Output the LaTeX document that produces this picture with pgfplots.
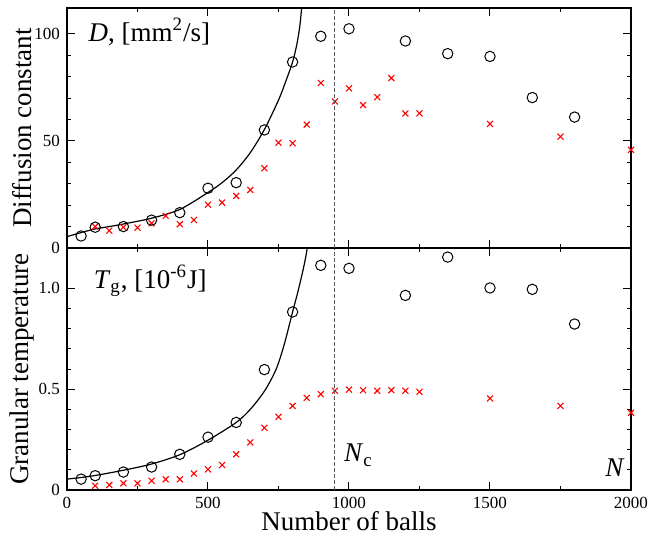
\documentclass[border=0pt]{standalone}
\usepackage{fontspec}
\setmainfont{Liberation Serif}
\usepackage{pgfplots}
\usepackage{pgfplotstable}
\pgfplotsset{compat=1.18}

% diffusion constant D [mm^2/s]
\pgfplotstableread{
N D
50 5.6
100 9.7
200 10.0
300 13.0
400 16.5
500 27.9
600 30.5
700 55.1
800 86.8
900 98.8
1000 102.3
1200 96.6
1350 90.7
1500 89.4
1650 70.2
1800 61.1
}\Dcirc
\pgfplotstableread{
N D
100 10.0
150 8.1
200 9.7
250 9.5
300 11.5
350 15.0
400 11.1
450 13.1
500 20.2
550 21.2
600 24.3
650 27.1
700 37.2
750 49.2
800 48.9
850 57.6
900 77.0
950 68.4
1000 74.5
1050 66.7
1100 70.4
1150 79.3
1200 62.8
1250 62.8
1500 57.9
1750 52.0
2000 45.8
}\Dcross
\pgfplotstableread{
N D
0 5.3
50 7.2
100 8.9
150 10.0
200 11.2
300 13.9
400 18.0
500 25.9
550 30.5
600 36.4
650 44.5
700 55.3
750 69.0
775 77.5
800 86.8
815 95
825 103
832 112
840 125
}\Dfit

% granular temperature T_g [1e-6 J]
\pgfplotstableread{
N T
50 0.054
100 0.071
200 0.089
300 0.114
400 0.177
500 0.262
600 0.335
700 0.597
800 0.883
900 1.114
1000 1.099
1200 0.965
1350 1.155
1500 1.002
1650 0.995
1800 0.823
}\Tcirc
\pgfplotstableread{
N T
100 0.021
150 0.025
200 0.033
250 0.033
300 0.046
350 0.053
400 0.053
450 0.082
500 0.102
550 0.124
600 0.177
650 0.236
700 0.309
750 0.363
800 0.417
850 0.457
900 0.475
950 0.492
1000 0.498
1050 0.495
1100 0.492
1150 0.495
1200 0.492
1250 0.487
1500 0.454
1750 0.417
2000 0.383
}\Tcross
\pgfplotstableread{
N T
0 0.054
50 0.062
100 0.072
200 0.098
300 0.129
400 0.175
500 0.247
600 0.335
650 0.40
700 0.49
741 0.597
770 0.72
800 0.883
820 0.99
840 1.11
852 1.2
862 1.32
}\Tfit

\tikzset{
  crit/.style={black!65, line width=0.5pt, dash pattern=on 2pt off 1pt},
  big/.style={font=\fontsize{13.5}{16}\selectfont},
}
\pgfplotsset{
  panel/.style={
    scale only axis, width=282pt,
    xmin=0, xmax=2000,
    xtick={0,500,1000,1500,2000}, minor x tick num=1,
    minor y tick num=4,
    major tick length=4pt, minor tick length=2pt,
    axis line style={line width=0.8pt},
    every tick/.style={black, line width=0.5pt},
    tick label style={font=\fontsize{8.5}{10}\selectfont},
    label style={font=\fontsize{13.5}{16}\selectfont},
    /pgf/number format/assume math mode=true,
    /pgf/number format/1000 sep={},
    clip mode=individual,
    ylabel style={at={(axis description cs:-0.08,0.5)}, anchor=center},
  },
  circ/.style={only marks, mark=o, mark size=2.6pt, black, line width=0.5pt},
  crs/.style={only marks, mark=x, mark size=2.1pt, red, line width=0.55pt},
  fit/.style={smooth, no marks, black, line width=0.6pt},
}

\begin{document}
\begin{tikzpicture}
% bottom panel
\begin{axis}[panel, at={(0,0)}, anchor=south west, height=121pt,
  ymin=0, ymax=1.2, ytick={0,0.5,1}, yticklabels={0,0.5,1.0},
  xlabel={Number of balls}, ylabel={Granular temperature},
  xlabel style={at={(axis description cs:0.5,-0.128)}, anchor=center, inner sep=0pt}]
\addplot[fit] table[x=N,y=T]{\Tfit};
\addplot[crs] table[x=N,y=T]{\Tcross};
\addplot[circ] table[x=N,y=T]{\Tcirc};
\draw[crit] (axis cs:950,0) -- (axis cs:950,1.2);
\node[big, anchor=base west] at (axis cs:70,1.0) {\textit{T}\textsubscript{g}, [10\textsuperscript{-6}J]};
\node[big, anchor=base west] at (axis cs:958,0.14) {\textit{N}\textsubscript{c}};
\node[big, anchor=base west] at (axis cs:1884,0.066) {\textit{N}};
\end{axis}
% top panel
\begin{axis}[panel, at={(0,121pt)}, anchor=south west, height=120pt,
  ymin=0, ymax=112, ytick={0,50,100}, xticklabels={},
  ylabel={Diffusion constant}]
\addplot[fit] table[x=N,y=D]{\Dfit};
\addplot[crs] table[x=N,y=D]{\Dcross};
\addplot[circ] table[x=N,y=D]{\Dcirc};
\draw[crit] (axis cs:950,0) -- (axis cs:950,112);
\node[big, anchor=base west] at (axis cs:52,96.4) {\textit{D}, [mm\textsuperscript{2}/s]};
\end{axis}
\pgfresetboundingbox
\path (-33.5pt,-23.5pt) rectangle (290.5pt,245pt);
\end{tikzpicture}
\end{document}
